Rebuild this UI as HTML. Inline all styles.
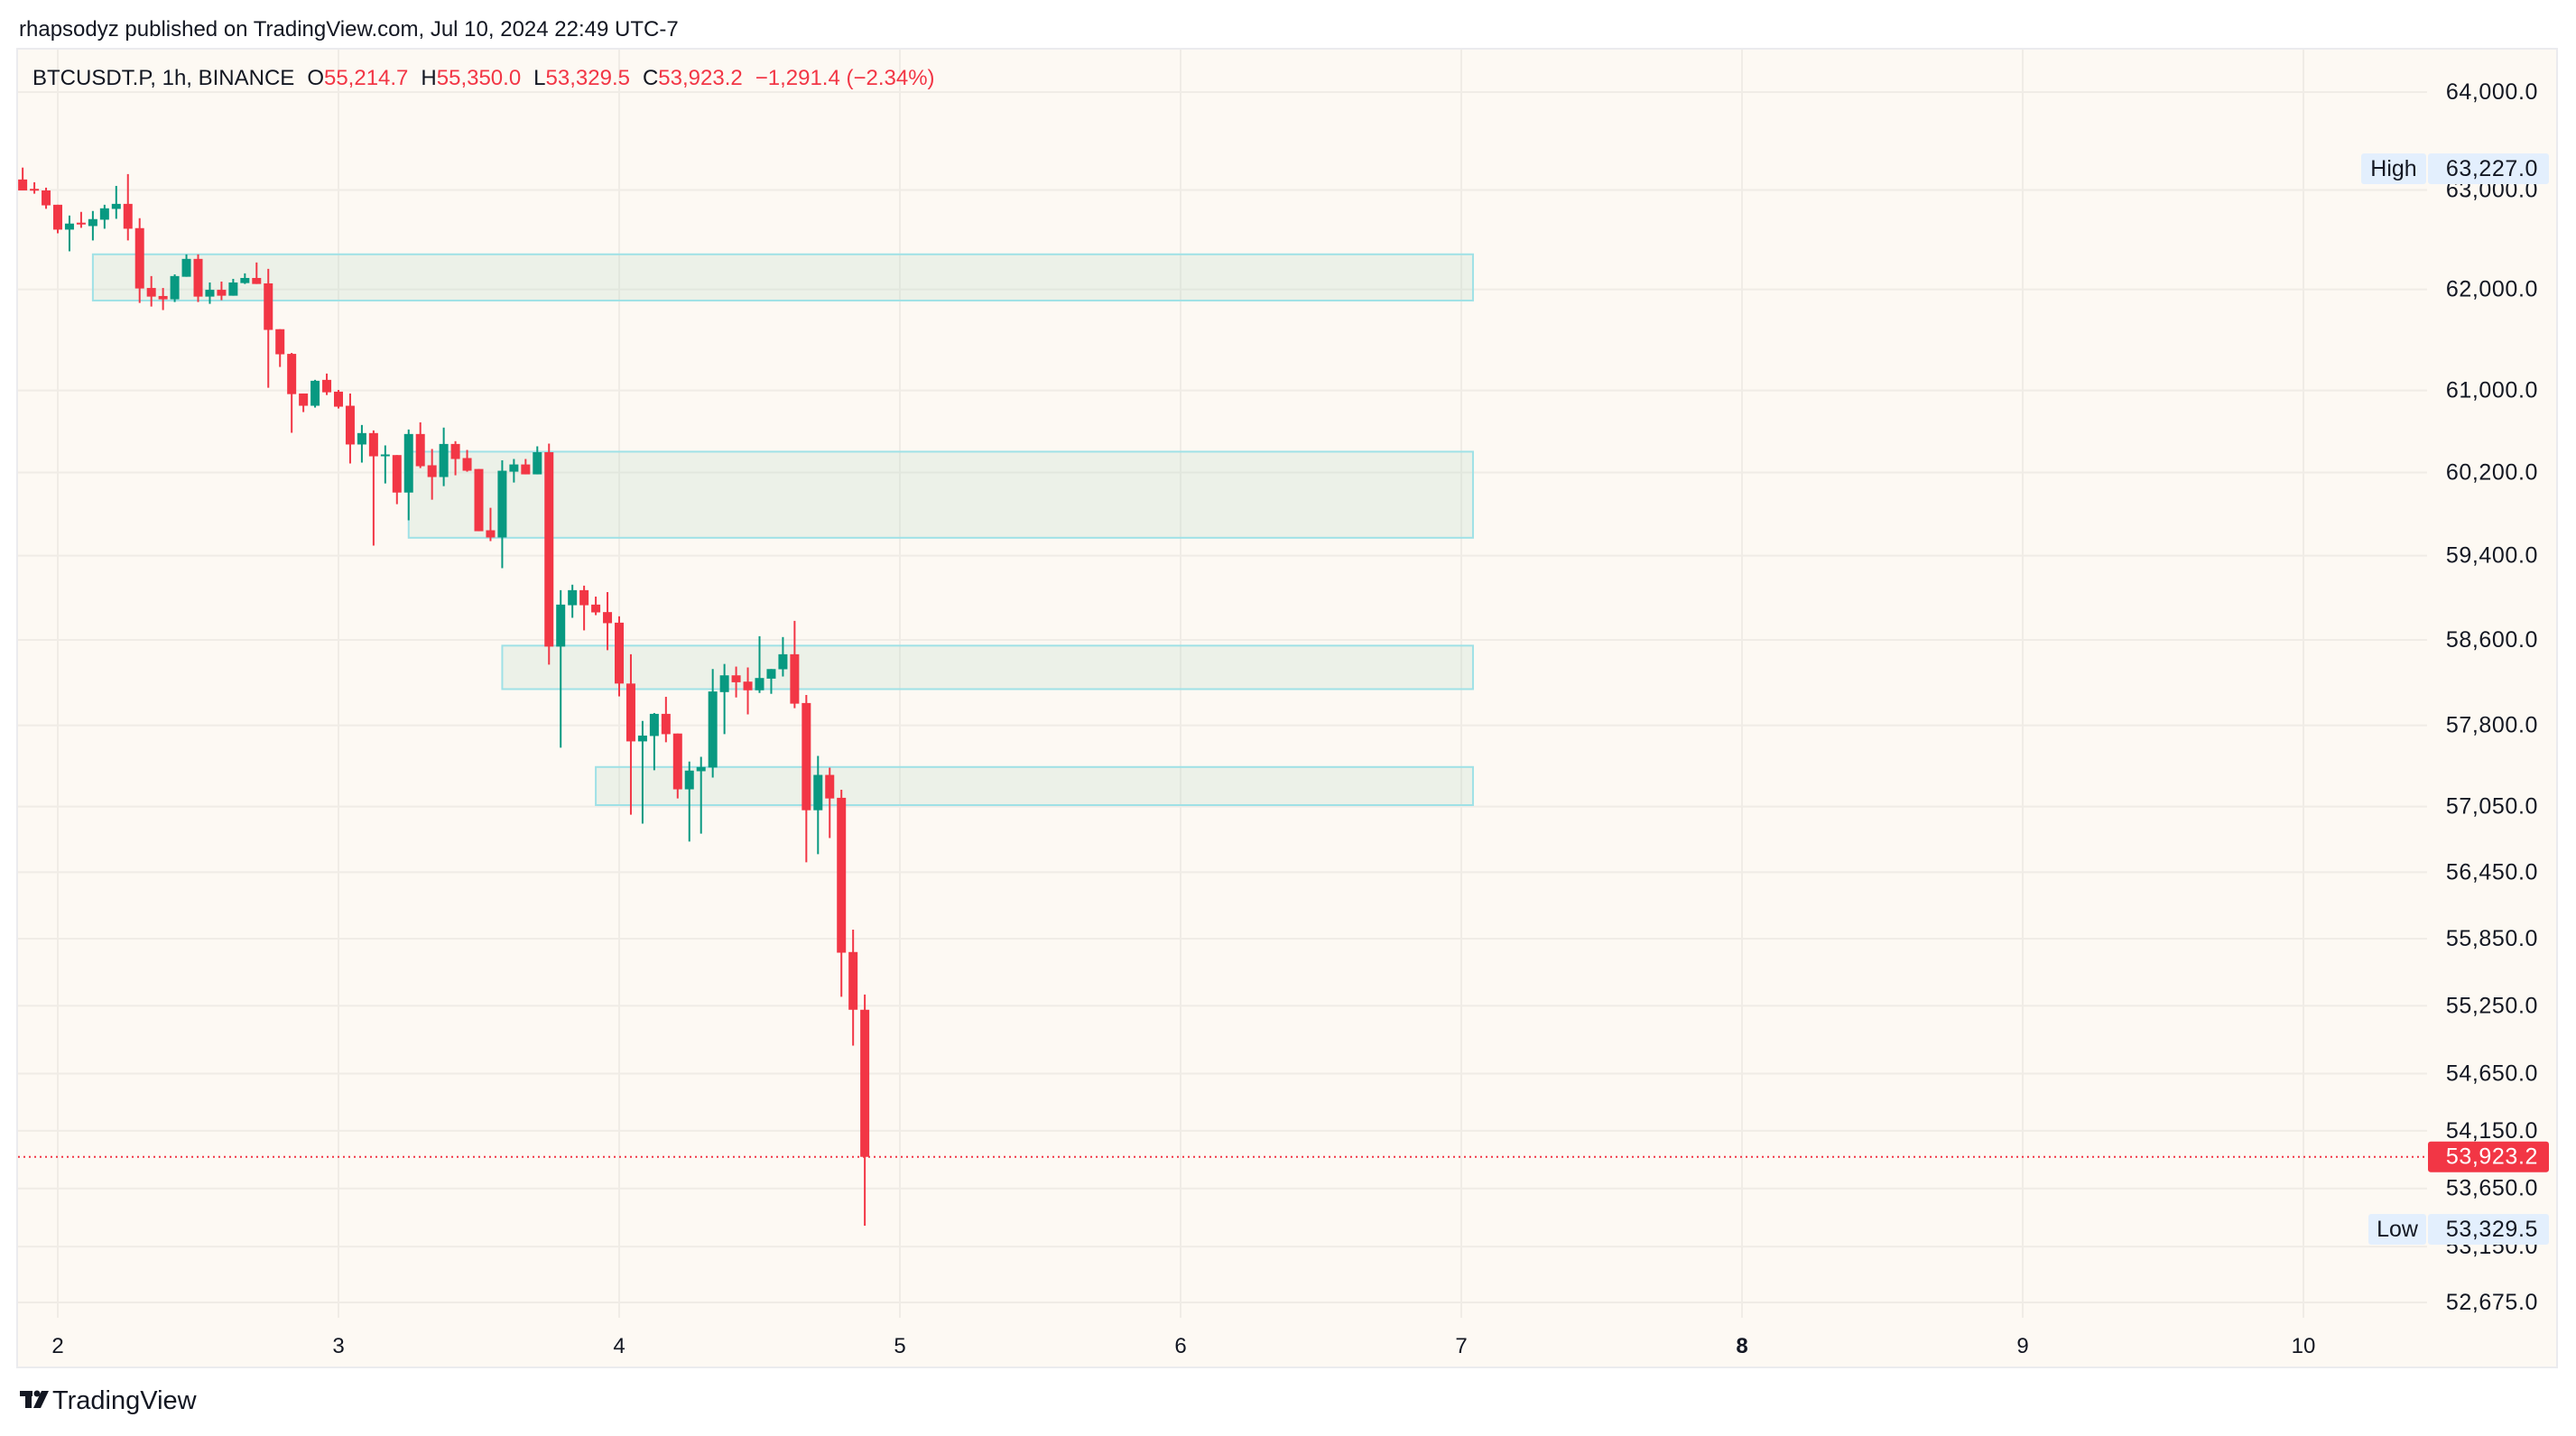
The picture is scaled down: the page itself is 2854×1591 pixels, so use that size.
<!DOCTYPE html>
<html><head><meta charset="utf-8">
<style>
html,body{margin:0;padding:0;background:#fff;}
body{width:2854px;height:1586px;overflow:hidden;font-family:"Liberation Sans",sans-serif;}
svg text{font-family:"Liberation Sans",sans-serif;}
</style></head>
<body>
<svg id="chart" width="2854" height="1586" viewBox="0 0 2854 1586" xmlns="http://www.w3.org/2000/svg">
  <text x="21" y="40" font-size="24" fill="#131722">rhapsodyz published on TradingView.com, Jul 10, 2024 22:49 UTC-7</text>
  <rect x="19" y="54" width="2814" height="1461" fill="#fdf9f3" stroke="#ebebee" stroke-width="2"/>
  <g id="grid"></g>
  <g id="zones"></g>
  <g id="candles"></g>
  <g id="overlay"></g>
  <text x="36" y="94" font-size="24" fill="#131722">BTCUSDT.P, 1h, BINANCE<tspan dx="14">O</tspan><tspan fill="#f23645">55,214.7</tspan><tspan dx="14">H</tspan><tspan fill="#f23645">55,350.0</tspan><tspan dx="14">L</tspan><tspan fill="#f23645">53,329.5</tspan><tspan dx="14">C</tspan><tspan fill="#f23645">53,923.2</tspan><tspan dx="14" fill="#f23645">−1,291.4 (−2.34%)</tspan></text>
  <g>
    <rect x="22" y="1541" width="14" height="6" fill="#131722"/>
    <rect x="28" y="1541" width="7" height="19" fill="#131722"/>
    <circle cx="41" cy="1544" r="3.5" fill="#131722"/>
    <polygon points="46,1541 54,1541 45,1560 37,1560" fill="#131722"/>
    <text x="58" y="1561" font-size="29" fill="#131722">TradingView</text>
  </g>
</svg>
<script>
const opens=[63106,63011,62995,62850,62599,62669,62635,62699,62808,62859,62614,62014,61934,61901,62126,62305,61928,61996,61937,62063,62114,62060,61604,61360,60970,60850,61104,60988,60850,60472,60583,60360,60369,60006,60574,60270,60156,60477,60340,60234,59643,59574,60208,60278,60182,60397,58537,58928,59071,58934,58863,58763,58190,57651,57701,57907,57724,57208,57375,57409,58110,58267,58208,58127,58236,58324,58465,58008,57016,57341,57130,55730,55214.7];
const highs=[63227,63078,63023,62850,62741,62778,62787,62850,63041,63161,62714,62133,62014,62150,62350,62350,62069,62078,62105,62160,62269,62205,61604,61370,60970,61104,61166,61005,60970,60662,60609,60463,60369,60618,60688,60428,60636,60504,60419,60234,59859,60318,60331,60331,60454,60480,59071,59123,59114,59010,59053,58823,58465,57841,57915,58066,57724,57464,57508,58326,58374,58349,58341,58635,58326,58627,58780,58083,57517,57408,57204,55931,55350];
const lows=[62995,62962,62809,62562,62381,62617,62490,62608,62708,62490,61865,61829,61794,61874,62126,61874,61856,61892,61937,62054,62054,61026,61231,60586,60788,60832,60955,60823,60287,60296,59496,60094,59894,59738,60243,59937,60068,60173,60208,59634,59539,59280,60103,60182,60182,58367,57593,58809,58690,58834,58503,58070,56975,56893,57384,57643,57124,56729,56802,57316,57718,58060,57902,58102,58094,58256,57960,56540,56614,56761,55330,54897,53329.5];
const closes=[62995,63002,62844,62599,62660,62653,62705,62814,62859,62608,62009,61928,61901,62133,62305,61928,61996,61937,62069,62114,62054,61597,61356,60964,60850,61095,60982,60841,60472,60583,60357,60375,60006,60574,60261,60156,60477,60331,60217,59634,59574,60217,60278,60182,60397,58537,58934,59071,58928,58860,58758,58190,57651,57705,57907,57718,57208,57381,57414,58116,58267,58202,58127,58242,58326,58465,58002,57016,57341,57124,55724,55214.7,53923.2];
const priceTicks=[64000,63000,62000,61000,60200,59400,58600,57800,57050,56450,55850,55250,54650,54150,53650,53150,52675];
const dayTicks=[2,3,4,5,6,7,8,9,10];
const zoneStart=[7,34,42,50];
const zoneEnd=[125,125,125,125];
const zoneTop=[62351,60402,58546,57414];
const zoneBottom=[61889,59571,58138,57063];
const highValue=63227.0, lowValue=53329.5, lastValue=53923.2;

const NS='http://www.w3.org/2000/svg';
function el(tag,attrs,parent){const e=document.createElementNS(NS,tag);for(const k in attrs)e.setAttribute(k,attrs[k]);parent.appendChild(e);return e;}
function yScale(p){return 102+6886*Math.log(64000/p);}
function xDay(d){return 64+(d-2)*311;}
function xCandle(i){return xDay(2+(i-3)/24);}
function fmt(v){return v.toLocaleString('en-US',{minimumFractionDigits:1,maximumFractionDigits:1});}

const grid=document.getElementById('grid');
priceTicks.forEach(p=>{
  const y=yScale(p);
  const l=el('line',{x1:20,x2:2689,y1:y,y2:y,stroke:'#f0ece6','stroke-width':2},grid);
  
  
  const t=el('text',{x:2812,y:y+8,'font-size':25,fill:'#131722','text-anchor':'end','letter-spacing':'0.6'},grid);
  t.textContent=fmt(p);
  
  
});
dayTicks.forEach(d=>{
  const x=xDay(d);
  const l=el('line',{x1:x,x2:x,y1:55,y2:1460,stroke:'#f0ece6','stroke-width':2},grid);
  
  
  const t=el('text',{x:x,y:1499,'font-size':24,fill:'#131722','text-anchor':'middle','font-weight':d===8?'bold':'normal'},grid);
  t.textContent=String(d);
  
  
});

const zones=document.getElementById('zones');
zoneStart.forEach((s,k)=>{
  const x1=xCandle(s-1),x2=xCandle(zoneEnd[k]-1);
  const y1=yScale(zoneTop[k]),y2=yScale(zoneBottom[k]);
  const r=el('rect',{x:x1,y:y1,width:x2-x1,height:y2-y1,fill:'rgba(178,216,196,0.22)',stroke:'#9fe1e6','stroke-width':2},zones);
  
  
});

const cg=document.getElementById('candles');
opens.forEach((o,i)=>{
  const c=closes[i],h=highs[i],lo=lows[i];
  const up=c>=o, col=up?'#089981':'#f23645';
  const x=xCandle(i);
  const g=el('g',{},cg);
  
  
  el('line',{x1:x,x2:x,y1:yScale(h),y2:yScale(lo),stroke:col,'stroke-width':2},g);
  const yt=yScale(Math.max(o,c)),yb=yScale(Math.min(o,c));
  el('rect',{x:x-5,y:yt,width:10,height:Math.max(2,yb-yt),fill:col},g);
});

const ov=document.getElementById('overlay');
const ly=yScale(lastValue);
const pl=el('line',{x1:20,x2:2689,y1:ly,y2:ly,stroke:'#f23645','stroke-width':2,'stroke-dasharray':'2 4'},ov);


const lb=el('rect',{x:2690,y:ly-17,width:134,height:34,rx:3,fill:'#f23645'},ov);


const lt=el('text',{x:2812,y:ly+8,'font-size':25,fill:'#ffffff','text-anchor':'end','letter-spacing':'0.6'},ov);
lt.textContent=fmt(lastValue);



function badge(label,val,y,lx){
  const g=el('g',{},ov);
  
  
  el('rect',{x:lx,y:y-17,width:2688-lx,height:34,rx:3,fill:'#e3effd'},g);
  el('rect',{x:2690,y:y-17,width:134,height:34,rx:3,fill:'#e3effd'},g);
  const t1=el('text',{x:(lx+2688)/2,y:y+8,'font-size':25,fill:'#131722','text-anchor':'middle'},g);
  t1.textContent=label;
  const t2=el('text',{x:2812,y:y+8,'font-size':25,fill:'#131722','text-anchor':'end','letter-spacing':'0.6'},g);
  t2.textContent=fmt(val);
}
badge('High',highValue,187,2616);
badge('Low',lowValue,1362,2624);
</script>
</body></html>
